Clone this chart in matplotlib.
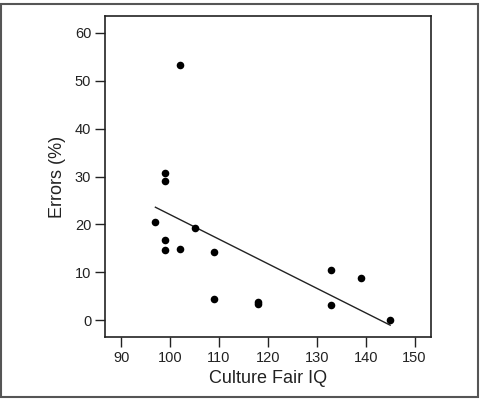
import numpy as np
import matplotlib
matplotlib.use("Agg")
import matplotlib.pyplot as plt
from matplotlib.patches import Rectangle

plt.rcParams['font.family'] = ['Liberation Sans', 'DejaVu Sans']

# Culture Fair IQ vs error rate
iq = [102, 99, 99, 97, 105, 99, 99, 102, 109, 109, 118, 118, 133, 133, 139, 145]
errors = [53.3, 30.8, 29.0, 20.5, 19.2, 16.7, 14.6, 14.8, 14.2, 4.4, 3.9, 3.4, 10.4, 3.1, 8.8, 0.0]
xticks = [90, 100, 110, 120, 130, 140, 150]
yticks = [0, 10, 20, 30, 40, 50, 60]

fig = plt.figure(figsize=(4.84, 4.0), dpi=100)
ax = fig.add_axes([0.217, 0.1575, 0.673, 0.8025])

ax.scatter(iq, errors, s=30, color='black', zorder=3, linewidths=0)

# least squares fit line over the data range
slope, icpt = np.polyfit(iq, errors, 1)
xs = np.array([min(iq), max(iq)])
ax.plot(xs, slope * xs + icpt, color='#222222', linewidth=1.0)

ax.set_xlim(86.7, 153.3)
ax.set_ylim(-3.5, 63.5)
ax.set_xticks(xticks)
ax.set_yticks(yticks)
ax.tick_params(direction='out', length=7, width=1, labelsize=10.5, pad=3, colors='#222222')
for sp in ax.spines.values():
    sp.set_linewidth(1.2)
    sp.set_color('#222222')

ax.set_xlabel("Culture Fair IQ", fontsize=13, color='#222222', labelpad=4)
ax.set_ylabel("Errors (%)", fontsize=13, color='#222222', labelpad=6)

# frame around the whole figure
fig.patches.append(Rectangle((0.003, 0.008), 0.985, 0.982, transform=fig.transFigure,
                             fill=False, edgecolor='#555555', linewidth=1.5))

fig.savefig("out.png", dpi=100)
